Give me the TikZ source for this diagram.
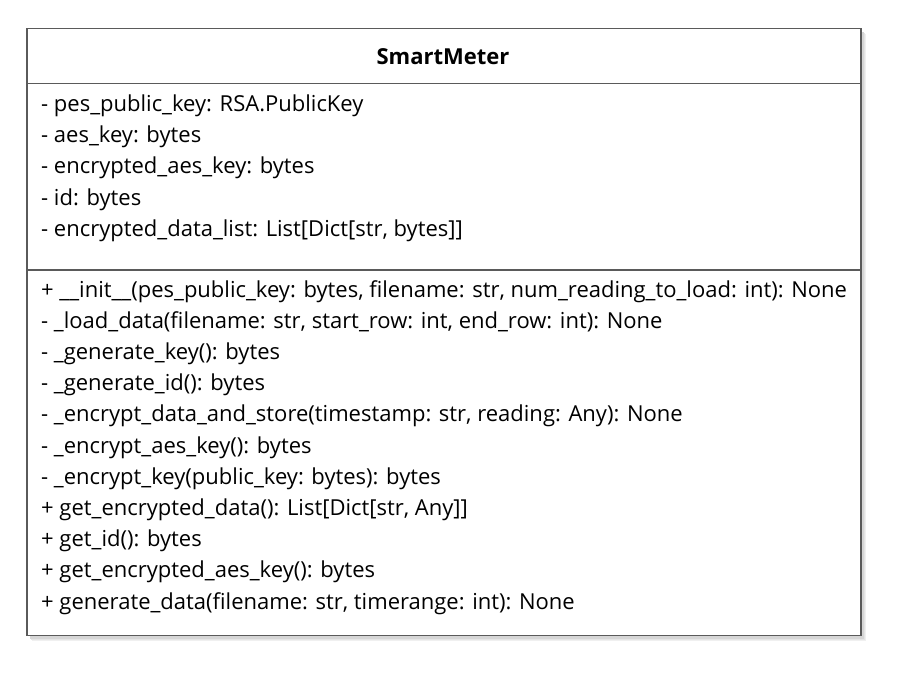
\documentclass[tikz,border=0pt]{standalone}
\usepackage{fontspec}
\setmainfont{Open Sans}
\usetikzlibrary{calc}
\definecolor{boxline}{HTML}{5A5A5A}
\tikzset{
  member/.style={anchor=base west, inner sep=0pt, font=\fontsize{22}{26}\selectfont, text=black},
  title/.style={anchor=base, inner sep=0pt, font=\fontsize{22}{26}\selectfont\bfseries, text=black},
  frame/.style={draw=boxline, line width=1.5pt},
}
\begin{document}
\begin{tikzpicture}[x=1pt,y=-1pt]
\useasboundingbox (0,0) rectangle (912,672);
% shadow
\foreach \o/\c in {5/6,4/10,3/16}{
  \fill[black!\c] (27+\o,28.5+\o) rectangle (861+\o,635.5+\o);
}
\fill[white] (27,28.5) rectangle (861,635.5);
\coordinate (tl) at (27,28.5);
\coordinate (br) at (861,635.5);
\draw[frame] (tl) rectangle (br);
\draw[frame] (27,83.5) coordinate (d1l) -- (861,83.5) coordinate (d1r);
\draw[frame] (27,270) coordinate (d2l) -- (861,270) coordinate (d2r);
\node[title] (title) at (443,64.5) {SmartMeter};
% attributes
\node[member] (a1) at (41,111.5) {- pes\_public\_key: RSA.PublicKey};
\node[member] (a2) at (41,142.7) {- aes\_key: bytes};
\node[member] (a3) at (41,173.9) {- encrypted\_aes\_key: bytes};
\node[member] (a4) at (41,205.1) {- id: bytes};
\node[member] (a5) at (41,236.3) {- encrypted\_data\_list: List[Dict[str, bytes]]};
% methods
\node[member] (m1) at (41,297) {+ \_\_init\_\_(pes\_public\_key: bytes, filename: str, num\_reading\_to\_load: int): None};
\node[member] (m2) at (41,328.2) {- \_load\_data(filename: str, start\_row: int, end\_row: int): None};
\node[member] (m3) at (41,359.4) {- \_generate\_key(): bytes};
\node[member] (m4) at (41,390.6) {- \_generate\_id(): bytes};
\node[member] (m5) at (41,421.8) {- \_encrypt\_data\_and\_store(timestamp: str, reading: Any): None};
\node[member] (m6) at (41,453) {- \_encrypt\_aes\_key(): bytes};
\node[member] (m7) at (41,484.2) {- \_encrypt\_key(public\_key: bytes): bytes};
\node[member] (m8) at (41,515.4) {+ get\_encrypted\_data(): List[Dict[str, Any]]};
\node[member] (m9) at (41,546.6) {+ get\_id(): bytes};
\node[member] (m10) at (41,577.8) {+ get\_encrypted\_aes\_key(): bytes};
\node[member] (m11) at (41,609) {+ generate\_data(filename: str, timerange: int): None};
\end{tikzpicture}
\end{document}
